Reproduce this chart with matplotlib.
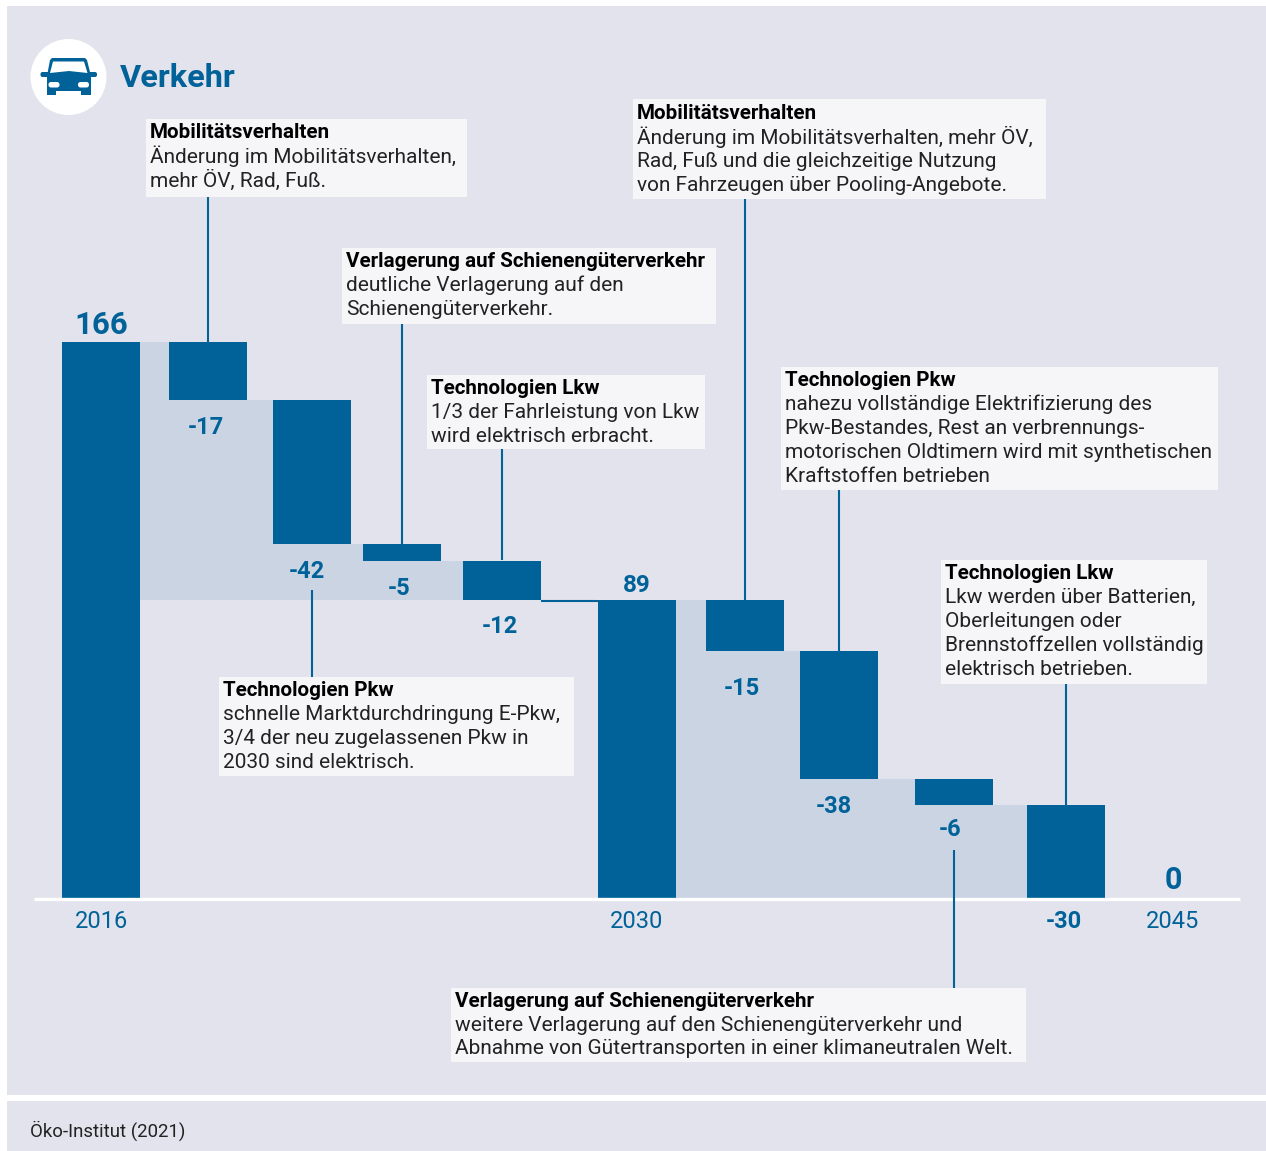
import matplotlib
matplotlib.use("Agg")
import matplotlib.pyplot as plt
from matplotlib.patches import Rectangle, Circle, Polygon, FancyBboxPatch

plt.rcParams["font.family"] = ["Roboto", "DejaVu Sans"]

W, H = 1266, 1151
BLUE = "#006298"
LIGHT = "#CAD4E3"
PANEL = "#E2E3EC"
BOX = "#F6F6F9"
TEXT = "#222222"

# --- data ---
years = ["2016", "2030", "2045"]
totals = [166, 89, 0]
total_labels = ["166", "89", "0"]
steps_a = [17.3, 43.1, 5.1, 11.6]   # drawn heights
steps_b = [15.2, 38.2, 7.8, 27.8]
labels_a = ["-17", "-42", "-5", "-12"]
labels_b = ["-15", "-38", "-6", "-30"]

notes = [
    ("Mobilitätsverhalten", ["Änderung im Mobilitätsverhalten,", "mehr ÖV, Rad, Fuß."]),
    ("Verlagerung auf Schienengüterverkehr", ["deutliche Verlagerung auf den", "Schienengüterverkehr."]),
    ("Technologien Lkw", ["1/3 der Fahrleistung von Lkw", "wird elektrisch erbracht."]),
    ("Technologien Pkw", ["schnelle Marktdurchdringung E-Pkw,", "3/4 der neu zugelassenen Pkw in", "2030 sind elektrisch."]),
    ("Mobilitätsverhalten", ["Änderung im Mobilitätsverhalten, mehr ÖV,", "Rad, Fuß und die gleichzeitige Nutzung", "von Fahrzeugen über Pooling-Angebote."]),
    ("Technologien Pkw", ["nahezu vollständige Elektrifizierung des", "Pkw-Bestandes, Rest an verbrennungs-", "motorischen Oldtimern wird mit synthetischen", "Kraftstoffen betrieben"]),
    ("Technologien Lkw", ["Lkw werden über Batterien,", "Oberleitungen oder", "Brennstoffzellen vollständig", "elektrisch betrieben."]),
    ("Verlagerung auf Schienengüterverkehr", ["weitere Verlagerung auf den Schienengüterverkehr und", "Abnahme von Gütertransporten in einer klimaneutralen Welt."]),
]

# --- layout, in pixels of the reference ---
BASE_Y = 898
PX_PER_UNIT = 556 / 166
BAR_W = 78
total_x = [62, 598]
step_x_a = [169, 273, 363, 463]
step_x_b = [706, 800, 915, 1027]
total_label_x = [101, 637, 1173]
total_label_y = [324.5, 585.5, 879.5]
step_label_pos_a = [(206, 427), (307, 571), (399, 588), (500, 626)]
step_label_pos_b = [(742, 688), (834, 806), (950, 829), (1064, 921)]
boxes = [(146, 119, 467, 197), (342, 248, 716, 324), (427, 375, 705, 449), (219, 677, 574, 776),
         (633, 99, 1046, 199), (781, 367, 1218, 490), (941, 560, 1207, 684), (451, 988, 1026, 1062)]
first_line_y = [132, 261, 388, 690, 113, 380, 573, 1001]
leaders = [(208, 197, 342), (402, 324, 544), (502, 449, 560), (311.5, 590, 677),
           (745, 199, 600), (839, 490, 652), (1066, 684, 805), (954, 850, 988)]

fig = plt.figure(figsize=(W / 100, H / 100), dpi=100, facecolor="white")

# overlay in pixel coordinates for panels, notes and text
px = fig.add_axes([0, 0, 1, 1], zorder=1)
px.set_xlim(0, W)
px.set_ylim(H, 0)
px.axis("off")
px.add_patch(Rectangle((7, 6), 1259, 1089, fc=PANEL, ec="none", zorder=0))
px.add_patch(Rectangle((7, 1101), 1259, 50, fc=PANEL, ec="none", zorder=0))

# chart axes, x in pixels and y in Mt
ax = fig.add_axes([0, 0, 1, 1], zorder=2)
ax.patch.set_alpha(0)
ax.set_xlim(0, W)
ax.set_ylim(-(H - BASE_Y) / PX_PER_UNIT, BASE_Y / PX_PER_UNIT)
ax.axis("off")


def waterfall(start_x, start, steps, step_x, end):
    # light band behind the falling bars, then the bars themselves
    xs = [start_x + BAR_W] + step_x
    level = start
    tops = []
    for s in [0] + steps[:-1]:
        level -= s
        tops.append(level)
    tops.append(tops[-1])
    ax.fill_between(xs, tops, end, step="post", color=LIGHT, lw=0, zorder=1)
    level = start
    for x, s in zip(step_x, steps):
        ax.bar(x, s, BAR_W, bottom=level - s, align="edge", color=BLUE, lw=0, zorder=2)
        level -= s


ax.bar(total_x, totals[:2], BAR_W, align="edge", color=BLUE, lw=0, zorder=2)
waterfall(total_x[0], totals[0], steps_a, step_x_a, totals[1])
waterfall(total_x[1], totals[1], steps_b, step_x_b, totals[2])
ax.hlines(totals[1] - 0.3, step_x_a[-1] + BAR_W, total_x[1], color=BLUE, lw=1.5, zorder=2)
ax.hlines(-0.4, 34, 1240, color="white", lw=2.4, zorder=3)

# leaders and notes sit on top of the bars
top = fig.add_axes([0, 0, 1, 1], zorder=3)
top.patch.set_alpha(0)
top.set_xlim(0, W)
top.set_ylim(H, 0)
top.axis("off")

for x, y0, y1 in leaders:
    top.vlines(x, y0, y1, color=BLUE, lw=1.5)

for (x0, y0, x1, y1), ly, (head, body) in zip(boxes, first_line_y, notes):
    top.add_patch(Rectangle((x0, y0), x1 - x0, y1 - y0, fc=BOX, ec="none"))
    top.text(x0 + 4, ly, head, fontsize=14.9, fontweight="bold", color="black", va="center")
    for i, line in enumerate(body):
        top.text(x0 + 4, ly + 24 * (i + 1), line, fontsize=15.05, color=TEXT, va="center")

for x, y, s in zip(total_label_x, total_label_y, total_labels):
    size = 22.5 if s == "166" else (22 if s == "0" else 17.5)
    top.text(x, y, s, fontsize=size, fontweight="bold", color=BLUE, ha="center", va="center")
for (x, y), s in zip(step_label_pos_a + step_label_pos_b, labels_a + labels_b):
    top.text(x, y, s, fontsize=17, fontweight="bold", color=BLUE, ha="center", va="center")
for x, s in zip(total_label_x, years):
    top.text(x, 921, s, fontsize=17, color=BLUE, ha="center", va="center")

# heading with car icon
top.add_patch(Circle((68.5, 77), 38, fc="white", ec="none"))
top.add_patch(FancyBboxPatch((40.5, 72), 56.5, 5, boxstyle="round,pad=0,rounding_size=2", fc=BLUE, ec="none"))
top.add_patch(Polygon([(50, 60), (52, 58), (85, 58), (87, 60), (91, 76), (91, 91), (47, 91), (47, 76)], fc=BLUE, ec="none"))
top.add_patch(Rectangle((47, 88), 9, 7, fc=BLUE, ec="none"))
top.add_patch(Rectangle((81, 88), 10, 7, fc=BLUE, ec="none"))
top.add_patch(Polygon([(53, 61.5), (84, 61.5), (87.5, 73), (69, 71), (50, 73)], fc="white", ec="none"))
top.add_patch(FancyBboxPatch((48.5, 82), 11, 5.5, boxstyle="round,pad=0,rounding_size=2.5", fc="white", ec="none"))
top.add_patch(FancyBboxPatch((78, 82), 11, 5.5, boxstyle="round,pad=0,rounding_size=2.5", fc="white", ec="none"))
top.text(120, 78, "Verkehr", fontsize=23.4, fontweight="bold", color=BLUE, va="center")

top.text(30, 1131, "Öko-Institut (2021)", fontsize=13.4, color=TEXT, va="center")

fig.savefig("out.png", dpi=100, facecolor="white")
